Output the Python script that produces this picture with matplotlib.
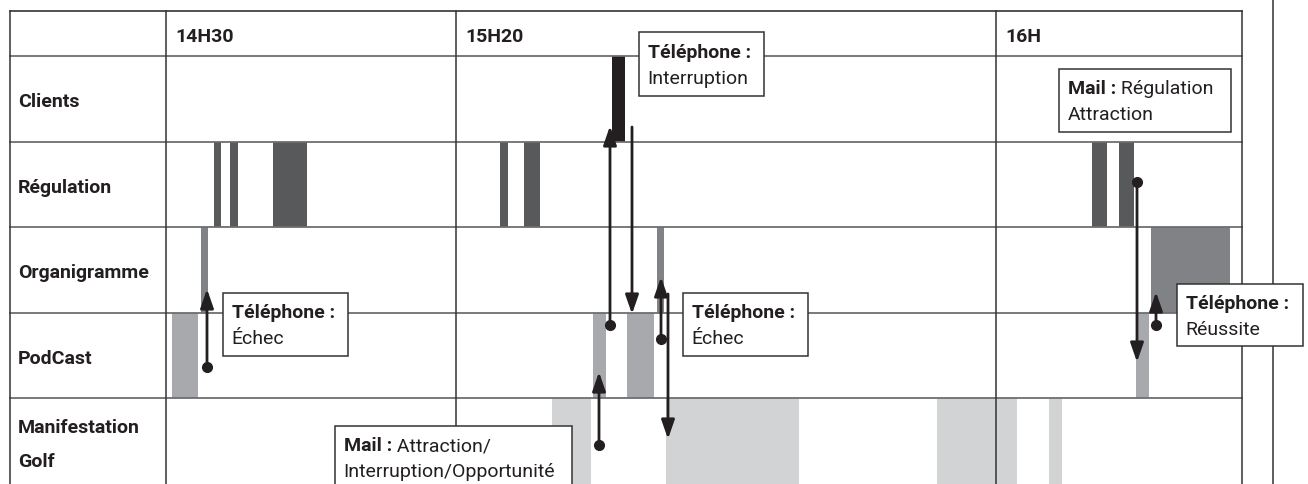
import matplotlib
matplotlib.use("Agg")
import matplotlib.pyplot as plt
from matplotlib.patches import Rectangle

plt.rcParams['font.family'] = ['Roboto', 'DejaVu Sans']

# layout of the table (pixel-like units, y grows downward)
W, H = 1308, 485
left, right, top = 10, 1242, 12
header_bottom = 57
row_h = 85.5
col_edges = [166, 456, 996]
time_labels = ['14H30', '15H20', '16H']
rows = ['Clients', 'Régulation', 'Organigramme', 'PodCast', 'Manifestation\nGolf']
row_colors = ['#231f20', '#58595b', '#808285', '#a7a9ac', '#d1d3d4']

# activity bars (start, end) per row
clients_bars = [(612, 625)]
regulation_bars = [(214, 221), (230, 238), (273, 307), (500, 508), (524, 540),
                   (1092, 1107), (1119, 1134)]
organigramme_bars = [(201, 208), (657, 664), (1151, 1230)]
podcast_bars = [(172, 198), (593, 606), (627, 654), (1136, 1149)]
golf_bars = [(552, 591), (666, 799), (937, 1017), (1049, 1062)]
all_bars = [clients_bars, regulation_bars, organigramme_bars, podcast_bars, golf_bars]

# arrows: x, y start, y end, dot at start
arrow_x = [207, 610, 632, 599, 661, 668, 1137, 1156]
arrow_y0 = [368, 326, 128, 446, 340, 295, 183, 326]
arrow_y1 = [290, 127, 315, 373, 278, 440, 363, 293]
arrow_dot = [True, True, False, True, True, False, True, True]

# notes: bold part, rest of line 1, line 2
note_bold = ['Téléphone :', 'Téléphone :', 'Téléphone :', 'Mail :', 'Téléphone :', 'Mail :']
note_rest = ['', '', '', ' Régulation', '', ' Attraction/']
note_line2 = ['Échec', 'Interruption', 'Échec', 'Attraction', 'Réussite', 'Interruption/Opportunité']
note_box = [(223, 294, 348, 357), (639, 33, 764, 97), (683, 294, 808, 357),
            (1059, 70, 1231, 133), (1177, 285, 1303, 347), (335, 427, 572, 495)]

fig = plt.figure(figsize=(W / 100, H / 100), dpi=100)
ax = fig.add_axes([0, 0, 1, 1])
ax.set_xlim(0, W)
ax.set_ylim(H, 0)
ax.axis('off')

fs = 14
dark = '#231f20'

# bars
for i, bars in enumerate(all_bars):
    y0 = header_bottom + i * row_h
    ax.broken_barh([(a, b - a) for a, b in bars], (y0, row_h),
                   facecolors=row_colors[i], zorder=1)

# grid lines
ax.plot([left, right], [top, top], color='#333333', lw=1.2, zorder=2)
for i in range(len(rows)):
    y = header_bottom + i * row_h
    ax.plot([left, right], [y, y], color='#6d6e71', lw=1.3, zorder=2)
for x in [left] + col_edges + [right]:
    ax.plot([x, x], [top, H], color='#333333', lw=1.1, zorder=2)
ax.plot([1273, 1273], [0, H], color='#333333', lw=1.1, zorder=2)

# labels
for x, lab in zip(col_edges, time_labels):
    ax.text(x + 9, header_bottom - 14.5, lab, fontsize=fs, fontweight='bold',
            color=dark, va='baseline', ha='left')
for i, lab in enumerate(rows):
    yc = header_bottom + (i + 0.5) * row_h
    if '\n' in lab:
        l1, l2 = lab.split('\n')
        ax.text(18, yc - 9, l1, fontsize=fs, fontweight='bold', color=dark, va='baseline')
        ax.text(18, yc + 25, l2, fontsize=fs, fontweight='bold', color=dark, va='baseline')
    else:
        ax.text(18, yc + 7.5, lab, fontsize=fs, fontweight='bold', color=dark, va='baseline')

# arrows
for x, y0, y1, d in zip(arrow_x, arrow_y0, arrow_y1, arrow_dot):
    ax.annotate('', xy=(x, y1), xytext=(x, y0),
                arrowprops=dict(arrowstyle='-|>,head_length=1.15,head_width=0.4',
                                mutation_scale=10, lw=2, color=dark,
                                shrinkA=0, shrinkB=0), zorder=3)
    if d:
        ax.plot(x, y0, 'o', ms=7, color=dark, zorder=3)

# notes
for b, r, l2, (x0, y0, x1, y1) in zip(note_bold, note_rest, note_line2, note_box):
    ax.add_patch(Rectangle((x0, y0), x1 - x0, y1 - y0, facecolor='white',
                           edgecolor='#333333', lw=1.1, zorder=4))
    t = ax.text(x0 + 8.5, y0 + 24.5, b, fontsize=fs, fontweight='bold', color=dark,
                va='baseline', zorder=5)
    if r:
        ax.annotate(r, xy=(1, 0), xycoords=t, fontsize=fs, color=dark,
                    va='bottom', ha='left', zorder=5)
    ax.text(x0 + 8.5, y0 + 50.5, l2, fontsize=fs, color=dark, va='baseline', zorder=5)

fig.savefig('out.png', dpi=100)
